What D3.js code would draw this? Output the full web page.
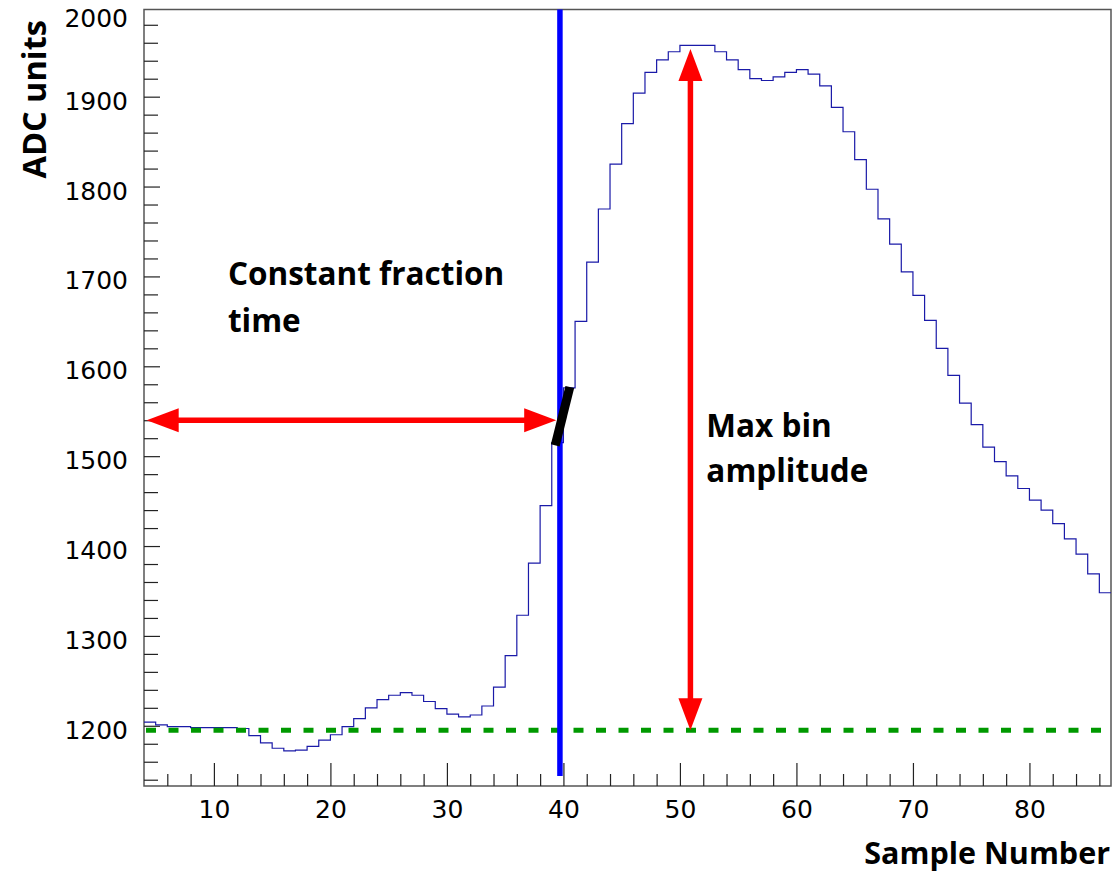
<!DOCTYPE html>
<html>
<head>
<meta charset="utf-8">
<script src="https://cdn.jsdelivr.net/npm/d3@7"></script>
<style>
  body { margin: 0; background: #fff; }
  svg { display: block; }
  .tick line { stroke: #222; stroke-width: 1.2; }
  .domain { display: none; }
  .title { font-family: "Open Sans", sans-serif; font-weight: bold; fill: #000; }
</style>
</head>
<body>
<svg width="1119" height="874"></svg>
<script>
// ADC value per sample bin, bins start at sample 4 and are 1 wide
var firstBin = 4;
var adc = [1204, 1201, 1199, 1199, 1198, 1198, 1198, 1198, 1197, 1189,
           1181, 1175, 1172, 1173, 1177, 1184, 1190, 1199, 1208, 1220,
           1229, 1234, 1237, 1234, 1227, 1219, 1213, 1210, 1212, 1222,
           1243, 1278, 1323, 1381, 1445, 1515, 1576, 1650, 1716, 1775,
           1825, 1870, 1904, 1927, 1941, 1950, 1957, 1957, 1957, 1950,
           1941, 1930, 1920, 1918, 1922, 1927, 1930, 1925, 1912, 1888,
           1861, 1830, 1797, 1764, 1736, 1705, 1679, 1651, 1620, 1590,
           1559, 1535, 1510, 1494, 1478, 1464, 1451, 1440, 1425, 1408,
           1391, 1369, 1348];

var xTicks = [10, 20, 30, 40, 50, 60, 70, 80];
var yTicks = [1200, 1300, 1400, 1500, 1600, 1700, 1800, 1900, 2000];

var baseline = 1195;        // green dashed pedestal
var cfTime = 39.7;          // constant fraction time (blue line)
var cfLevel = 1540;         // level of the horizontal arrow
var cfSegment = [[39.3, 1512], [40.55, 1577]];
var maxBin = 50.9;          // x of vertical arrow
var maxValue = 1953;

var svg = d3.select("svg");

var x = d3.scaleLinear().domain([4, 87]).range([144, 1111]);
var y = d3.scaleLinear().domain([1133, 1997]).range([786, 9.5]);

// frame
svg.append("rect")
  .attr("x", x(4)).attr("y", y(1997))
  .attr("width", x(87) - x(4)).attr("height", y(1133) - y(1997))
  .attr("fill", "none").attr("stroke", "#555").attr("stroke-width", 1.5);

// minor ticks
svg.append("g")
  .attr("transform", "translate(0," + y(1133) + ")")
  .call(d3.axisBottom(x)
    .tickValues(d3.range(6, 87, 2).filter(function(d) { return d % 10 != 0; }))
    .tickSize(-12).tickFormat(""));
svg.append("g")
  .attr("transform", "translate(" + x(4) + ",0)")
  .call(d3.axisLeft(y)
    .tickValues(d3.range(1140, 1997, 20).filter(function(d) { return d % 100 != 0; }))
    .tickSize(-14).tickFormat(""));

// major ticks + labels
var xAxis = svg.append("g")
  .attr("transform", "translate(0," + y(1133) + ")")
  .call(d3.axisBottom(x).tickValues(xTicks).tickSize(-23).tickPadding(14).tickFormat(d3.format("d")));

var yAxis = svg.append("g")
  .attr("transform", "translate(" + x(4) + ",0)")
  .call(d3.axisLeft(y).tickValues(yTicks).tickSize(-16).tickPadding(16).tickFormat(d3.format("d")));
yAxis.selectAll(".tick text").attr("dy", "0.5em");
// 2000 lies just above the frame: keep its label inside like the original
yAxis.selectAll(".tick").filter(function(d) { return d > y.domain()[1]; })
  .attr("transform", "translate(0," + (y.range()[1] + 5) + ")")
  .select("line").remove();

svg.selectAll(".tick text")
  .style("font-family", "'DejaVu Sans', sans-serif")
  .style("font-size", "25px")
  .attr("fill", "#000");

// histogram
var pts = adc.map(function(v, i) { return [firstBin + i, v]; });
pts.push([firstBin + adc.length, adc[adc.length - 1]]);

svg.append("path")
  .datum(pts)
  .attr("fill", "none")
  .attr("stroke", "#1a1aa8")
  .attr("stroke-width", 1.2)
  .attr("d", d3.line()
    .x(function(d) { return x(d[0]); })
    .y(function(d) { return y(d[1]); })
    .curve(d3.curveStepAfter));

// pedestal
svg.append("line")
  .attr("x1", x(4) + 2).attr("x2", x(87))
  .attr("y1", y(baseline)).attr("y2", y(baseline))
  .attr("stroke", "#009900").attr("stroke-width", 5)
  .attr("stroke-dasharray", "10,12.5");

// constant fraction time
svg.append("line")
  .attr("x1", x(cfTime)).attr("x2", x(cfTime))
  .attr("y1", y(1144)).attr("y2", y(1997))
  .attr("stroke", "#0000ff").attr("stroke-width", 5.5);

svg.append("line")
  .attr("x1", x(cfSegment[0][0])).attr("y1", y(cfSegment[0][1]))
  .attr("x2", x(cfSegment[1][0])).attr("y2", y(cfSegment[1][1]))
  .attr("stroke", "#000").attr("stroke-width", 9);

function arrow(x1, y1, x2, y2) {
  var len = Math.hypot(x2 - x1, y2 - y1),
      ux = (x2 - x1) / len, uy = (y2 - y1) / len,
      hl = 32, hw = 12;
  svg.append("line")
    .attr("x1", x1 + ux * hl * 0.8).attr("y1", y1 + uy * hl * 0.8)
    .attr("x2", x2 - ux * hl * 0.8).attr("y2", y2 - uy * hl * 0.8)
    .attr("stroke", "#ff0000").attr("stroke-width", 5.5);
  [[x2, y2, ux, uy], [x1, y1, -ux, -uy]].forEach(function(a) {
    var bx = a[0] - a[2] * hl, by = a[1] - a[3] * hl;
    svg.append("polygon")
      .attr("points", [[a[0], a[1]], [bx - a[3] * hw, by + a[2] * hw], [bx + a[3] * hw, by - a[2] * hw]].join(" "))
      .attr("fill", "#ff0000");
  });
}
arrow(x(4.23), y(cfLevel), x(39.38), y(cfLevel));
arrow(x(maxBin), y(baseline), x(maxBin), y(maxValue));

// annotations
function note(txt, xv, yv) {
  svg.append("text").attr("class", "title")
    .attr("x", x(xv)).attr("y", y(yv))
    .style("font-size", "31.5px").text(txt);
}
note("Constant fraction", 11.2, 1690.5);
note("time", 11.2, 1638.6);
note("Max bin", 52.27, 1521.8);
note("amplitude", 52.27, 1471.7);

// axis titles
svg.append("text").attr("class", "title")
  .attr("x", 1110).attr("y", 864)
  .attr("text-anchor", "end")
  .style("font-size", "30.5px")
  .text("Sample Number");

svg.append("text").attr("class", "title")
  .attr("transform", "translate(46,20) rotate(-90)")
  .attr("text-anchor", "end")
  .style("font-size", "32.5px")
  .text("ADC units");
</script>
</body>
</html>
